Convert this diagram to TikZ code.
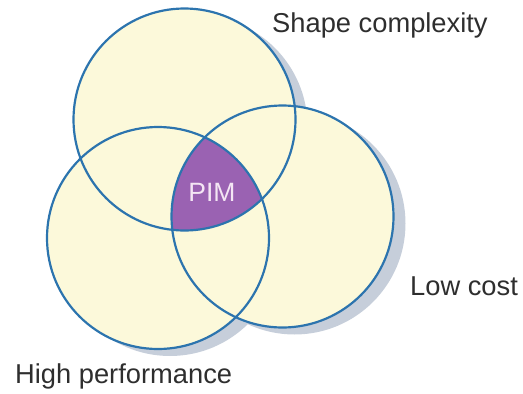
\documentclass[tikz,border=0pt]{standalone}
\usepackage{fontspec}
\setmainfont{Liberation Sans}
\definecolor{ringblue}{HTML}{2C74AE}
\definecolor{creamfill}{HTML}{FCF9DA}
\definecolor{shadowgrey}{HTML}{C6CEDA}
\definecolor{pimpurple}{HTML}{9A62B2}
\definecolor{pimtext}{HTML}{F4E6F4}
\definecolor{labelgrey}{HTML}{2E2E2E}
\begin{document}
\begin{tikzpicture}[x=1pt,y=-1pt,
  ring/.style={draw=ringblue, line width=2.2pt},
  setlabel/.style={text=labelgrey, font=\fontsize{27.3}{31}\selectfont, inner sep=0pt, anchor=base west},
]
\useasboundingbox (0,0) rectangle (523,394);
% circle centres
\coordinate (cA) at (184.5,119.5);
\coordinate (cB) at (158,238);
\coordinate (cC) at (282.5,216.5);
\def\rr{111pt}
% drop shadow
\foreach \c in {cA,cB,cC}
  \fill[shadowgrey] ([shift={(12,7)}]\c) circle[radius=\rr];
% discs
\foreach \c in {cA,cB,cC}
  \fill[creamfill] (\c) circle[radius=\rr];
% common intersection
\begin{scope}
  \clip (cA) circle[radius=\rr];
  \clip (cB) circle[radius=\rr];
  \fill[pimpurple] (cC) circle[radius=\rr];
\end{scope}
% outlines
\foreach \c in {cA,cB,cC}
  \draw[ring] (\c) circle[radius=\rr];
% labels
\node[text=pimtext, font=\fontsize{26.5}{30}\selectfont, inner sep=0pt] (pim) at (212,192) {PIM};
\node[setlabel] (shape) at (272,32) {Shape complexity};
\node[setlabel] (cost) at (410,295) {Low cost};
\node[setlabel] (perf) at (15,383) {High performance};
\end{tikzpicture}
\end{document}
